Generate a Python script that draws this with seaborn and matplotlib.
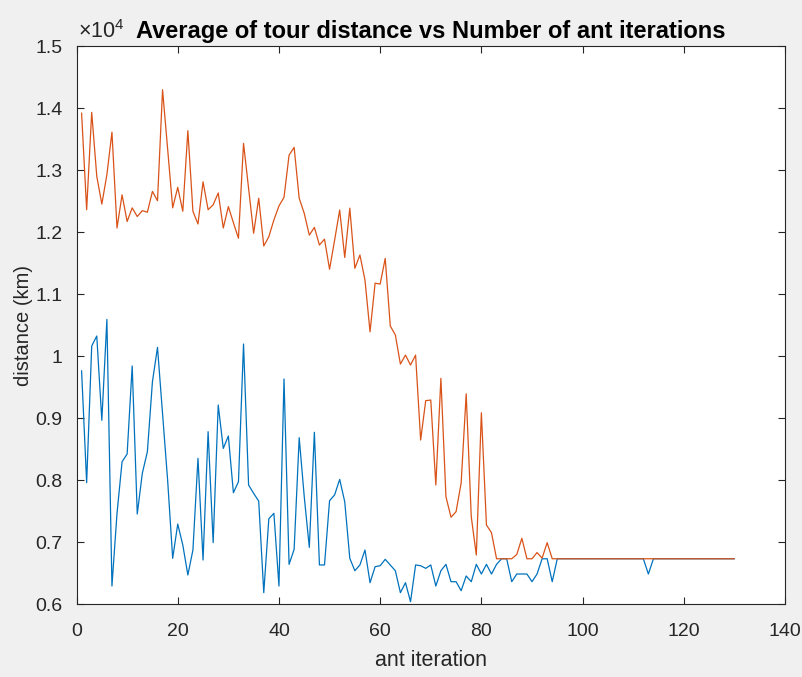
import numpy as np
import pandas as pd
import seaborn as sns
import matplotlib.pyplot as plt
from matplotlib.ticker import FuncFormatter, MultipleLocator

# ant iteration numbers
iterations = list(range(1, 131))

# average tour distance per iteration (orange)
avg_distance = [
    13920, 12360, 13930, 12900, 12450, 12925, 13610, 12065, 12600, 12170,
    12390, 12250, 12345, 12320, 12655, 12505, 14295, 13340, 12390, 12720,
    12335, 13635, 12335, 12130, 12810, 12360, 12440, 12630, 12065, 12410,
    12150, 11900, 13430, 12700, 11980, 12545, 11775, 11925, 12195, 12420,
    12560, 13240, 13365, 12545, 12300, 11950, 12075, 11790, 11885, 11400,
    11870, 12355, 11590, 12385, 11415, 11630, 11225, 10390, 11175, 11160,
    11575, 10485, 10340, 9870, 10015, 9855, 10015, 8645, 9280, 9290,
    7920, 9640, 7730, 7400, 7490, 7950, 9390, 7410, 6790, 9085,
    7275, 7150, 6730, 6730, 6730, 6730, 6800, 7060, 6730, 6730,
    6830, 6740, 6990, 6730, 6730, 6730, 6730, 6730, 6730, 6730,
    6730, 6730, 6730, 6730, 6730, 6730, 6730, 6730, 6730, 6730,
    6730, 6730, 6730, 6730, 6730, 6730, 6730, 6730, 6730, 6730,
    6730, 6730, 6730, 6730, 6730, 6730, 6730, 6730, 6730, 6730,
]

# best tour distance per iteration (blue)
best_distance = [
    9763, 7957, 10161, 10323, 8963, 10590, 6290, 7463, 8295, 8420,
    9840, 7452, 8108, 8457, 9586, 10140, 9060, 8000, 6737, 7290,
    6952, 6468, 6871, 8350, 6710, 8780, 6990, 9210, 8510, 8710,
    7795, 7973, 10194, 7920, 7785, 7660, 6183, 7375, 7463, 6290,
    9630, 6640, 6882, 8683, 7730, 6914, 8770, 6630, 6630, 7666,
    7760, 8010, 7650, 6737, 6537, 6630, 6871, 6344, 6602, 6618,
    6721, 6630, 6537, 6183, 6344, 6037, 6630, 6618, 6575, 6630,
    6290, 6537, 6640, 6360, 6360, 6215, 6452, 6360, 6640, 6484,
    6640, 6484, 6640, 6730, 6730, 6360, 6484, 6484, 6484, 6360,
    6484, 6730, 6730, 6360, 6730, 6730, 6730, 6730, 6730, 6730,
    6730, 6730, 6730, 6730, 6730, 6730, 6730, 6730, 6730, 6730,
    6730, 6730, 6484, 6730, 6730, 6730, 6730, 6730, 6730, 6730,
    6730, 6730, 6730, 6730, 6730, 6730, 6730, 6730, 6730, 6730,
]

data = pd.concat([
    pd.DataFrame({'iteration': iterations, 'distance': best_distance, 'series': 'best'}),
    pd.DataFrame({'iteration': iterations, 'distance': avg_distance, 'series': 'average'}),
])

sns.set_style("ticks")
plt.rcParams['font.family'] = ['Liberation Sans', 'DejaVu Sans']
plt.rcParams['mathtext.fontset'] = 'custom'
plt.rcParams['mathtext.rm'] = 'Liberation Sans'

text_color = '#262626'

fig = plt.figure(figsize=(8.03, 6.77), dpi=100, facecolor='#f0f0f0')
ax = fig.add_axes([0.0953, 0.1078, 0.8823, 0.8242])
ax.set_facecolor('white')

sns.lineplot(
    data=data, x='iteration', y='distance', hue='series',
    hue_order=['best', 'average'], palette=['#0072BD', '#D95319'],
    estimator=None, linewidth=0.9, legend=False, ax=ax
)

ax.set_xlim(0, 140)
ax.set_ylim(6000, 15000)
ax.xaxis.set_major_locator(MultipleLocator(20))
ax.yaxis.set_major_locator(MultipleLocator(1000))
ax.yaxis.set_major_formatter(FuncFormatter(lambda v, p: f"{v / 1e4:g}"))

ax.tick_params(direction='in', top=True, right=True, length=5, width=0.8,
               colors=text_color, labelsize=14)
ax.tick_params(axis='x', pad=14)
ax.tick_params(axis='y', pad=10)
for s in ax.spines.values():
    s.set_color(text_color)
    s.set_linewidth(0.8)

ax.set_xlabel('ant iteration', fontsize=15.5, color=text_color, labelpad=7)
ax.set_ylabel('distance (km)', fontsize=14.5, color=text_color, labelpad=2)
ax.set_title('Average of tour distance vs Number of ant iterations',
             fontsize=17, fontweight='bold', color='black', pad=6)
ax.text(0.002, 1.006, r'$\mathregular{\times10^{4}}$', transform=ax.transAxes,
        ha='left', va='bottom', fontsize=15.5, color=text_color)

fig.savefig('out.png', dpi=100, facecolor=fig.get_facecolor())
